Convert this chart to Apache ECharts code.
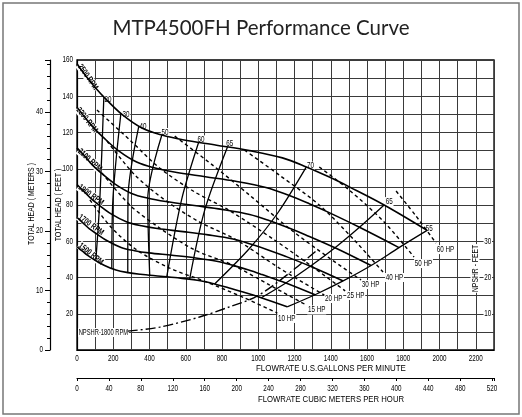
<!DOCTYPE html>
<html><head><meta charset="utf-8">
<script src="https://cdn.jsdelivr.net/npm/echarts@6/dist/echarts.min.js"></script>
<style>html,body{margin:0;padding:0;background:#fff}#c{width:522px;height:417px}</style>
</head><body><div id="c"></div>
<script>
// ---- data (GPM, feet) ----
const rpmNames = ['2500 RPM','2300 RPM','2100 RPM','1900 RPM','1700 RPM','1500 RPM'];
const rpm2500 = [[0,158],[50,151],[99,145],[154,139],[248,130],[358,122.5],[468,118.6],[583,116],[770,113],[951,110],[1133,106],[1265,101],[1392,95.4],[1502,90],[1694,80],[1931,66]];
const rpm2300 = [[0,134],[46,128],[91,122.7],[142,117.6],[228,110],[329,103.7],[431,100.4],[536,98.2],[708,95.6],[875,93.1],[1042,89.7],[1164,85.5],[1281,80.7],[1382,76.2],[1558,67.7],[1776,56.5]];
const rpm2100 = [[0,111.5],[42,107],[83,102.3],[129,98],[208,91.7],[301,86.4],[393,83.7],[490,81.9],[647,79.7],[799,77.6],[952,74.8],[1063,71.3],[1169,67.3],[1262,63.5],[1423,56.4],[1622,46.6]];
const rpm1900 = [[0,91.3],[38,87.5],[75,83.8],[117,80.3],[188,75.1],[272,70.8],[356,68.5],[443,67],[585,65.3],[723,63.5],[861,61.2],[961,58.3],[1058,55.1],[1142,52],[1287,46.2],[1468,38.1]];
const rpm1700 = [[0,73.1],[34,70],[67,67],[105,64.3],[169,60.1],[243,56.6],[318,54.8],[396,53.6],[524,52.3],[647,50.9],[770,49],[860,46.7],[947,44.1],[1021,41.6],[1152,37],[1313,30.5]];
const rpm1500 = [[0,56.9],[30,54.5],[59,52.2],[92,50],[149,46.8],[215,44.1],[281,42.7],[350,41.8],[462,40.7],[571,39.6],[680,38.2],[759,36.4],[835,34.3],[901,32.4],[1016,28.8],[1159,23.8]];

const effNames = ['20','30','40','50','60','65','70','65','55'];
const eff20 = [[104,49.5],[126,83],[148,139.5]];
const eff30 = [[192,45],[198,83],[242,130.5]];
const eff40 = [[280,42.7],[281,83],[341,123.5]];
const eff50 = [[401,41.3],[390,83],[468,118.6]];
const eff60 = [[495,40.4],[577,83],[671,114.6]];
const eff65 = [[621,39],[704,77],[830,112]];
const eff70 = [[759,36.4],[951,56],[1110,76],[1265,101]];
const eff65r = [[1016,28.8],[1152,37],[1287,46.2],[1423,56.4],[1558,67.7],[1694,80]];
const eff55 = [[1159,23.8],[1313,30.5],[1468,38.1],[1622,46.6],[1776,56.5],[1931,66]];

const hpNames = ['60 HP','50 HP','40 HP','30 HP','25 HP','20 HP','15 HP','10 HP'];
const hp60 = [[1760,87.7],[1870,73.9],[1980,59]];
const hp50 = [[1336,101],[1501,88.3],[1694,70.6],[1859,51.3]];
const hp40 = [[924,110.3],[1116,96.5],[1336,80],[1529,60.7],[1688,43]];
const hp30 = [[539,118],[748,102],[951,85.5],[1182,66.2],[1391,50.8],[1567,38.6]];
const hp25 = [[110,132.4],[291,115.9],[456,100.4],[649,87.2],[836,77.2],[1089,60.7],[1309,45.2],[1479,32.6]];
const hp20 = [[165,115.3],[319,96.6],[484,82.8],[676,70.6],[880,60.7],[1116,45.2],[1364,30.3]];
const hp15 = [[137,97.7],[291,80],[456,67.3],[649,55.2],[858,46.9],[1061,35.9],[1265,24.8]];
const hp10 = [[71,82.8],[192,67.3],[330,55.2],[511,45.2],[715,37.5],[924,28.7],[1105,20.4]];

// NPSHR (GPM, NPSH feet on right axis)
const npshName = 'NPSHR-1800 RPM';
const npshr1800 = [[280,5.2],[456,6.3],[676,9.1],[841,11.9],[995,14.9],[1171,21.2],[1325,27.6]];

// label anchors (GPM, feet)
const rpmLabelAt = [[60,150.6],[55,126.9],[71,104.8],[77,85.5],[77,69],[77,53]];
const effLabelAt = [[148,137.9],[247,129.7],[341,123.3],[462,120],[660,115.9],[819,113.9],[1265,101.5],[1699,81.9],[1919,67]];
const hpLabelAt = [[1980,55.4],[1859,47.7],[1699,40],[1567,36.1],[1485,30.1],[1364,28.4],[1270,22.1],[1105,17.4]];
const npshLabelAt = [5.5,9.65];

// axis ticks / labels
const gpmMax = 2300, gpmStep = 100;
const gpmTicks = [0,200,400,600,800,1000,1200,1400,1600,1800,2000,2200];
const ftMax = 160, ftStep = 10;
const ftTicks = [20,40,60,80,100,120,140,160];
const m3hMax = 2300/4.40287, m3hStep = 40;
const m3hTicks = [0,40,80,120,160,200,240,280,320,360,400,440,480,520];
const meterMax = 160/3.28084, meterStep = 10;
const meterTicks = [0,10,20,30,40];
const npshMax = 80;
const npshTicks = [10,20,30];

// ---- chart ----
const FONT = "'Liberation Sans',Arial,sans-serif";
const chart = echarts.init(document.getElementById('c'), null, {renderer:'canvas'});
const rpmData = [rpm2500,rpm2300,rpm2100,rpm1900,rpm1700,rpm1500];
const effData = [eff20,eff30,eff40,eff50,eff60,eff65,eff70,eff65r,eff55];
const hpData = [hp60,hp50,hp40,hp30,hp25,hp20,hp15,hp10];
const rpmAngles = [-55,-52,-42,-36,-36,-39];

const series = [];
rpmData.forEach((d,i)=>series.push({type:'line',name:rpmNames[i],data:d,smooth:0.35,symbol:'none',silent:true,z:4,
  lineStyle:{color:'#000',width:1.6}}));
effData.forEach((d,i)=>series.push({type:'line',name:'eff'+effNames[i],data:d,smooth:0.3,symbol:'none',silent:true,z:4,
  lineStyle:{color:'#000',width:1.3}}));
hpData.forEach((d,i)=>series.push({type:'line',name:hpNames[i],data:d,smooth:0.3,symbol:'none',silent:true,z:4,
  lineStyle:{color:'#000',width:1.4,type:[3.5,3]}}));
series.push({type:'line',name:npshName,yAxisIndex:2,data:npshr1800,smooth:0.3,symbol:'none',silent:true,z:4,
  lineStyle:{color:'#000',width:1.4,type:[10,3,2,3]}});

const blackLine = {color:'#000',width:1.2};
const noLabel = {show:false};
const option = {
  animation:false,
  title:{text:'MTP4500FH Performance Curve',left:'center',top:13,
    textStyle:{fontFamily:'Lato',fontSize:20.5,fontWeight:'normal',color:'#222'}},
  grid:{left:77,right:28,top:60,bottom:67,show:true,borderColor:'#000',borderWidth:1.3,backgroundColor:'transparent'},
  xAxis:[
    {type:'value',min:0,max:gpmMax,interval:gpmStep,
     axisLine:{lineStyle:blackLine},axisTick:{show:false},axisLabel:noLabel,
     splitLine:{show:true,lineStyle:{color:'#3a3a3a',width:1}}},
    {type:'value',min:0,max:m3hMax,interval:m3hStep,position:'bottom',offset:28,
     axisLine:{show:true,onZero:false,lineStyle:blackLine},axisTick:{show:true,length:3,lineStyle:{color:'#000'}},
     axisLabel:noLabel,splitLine:{show:false}}
  ],
  yAxis:[
    {type:'value',min:0,max:ftMax,interval:ftStep,
     axisLine:{show:true,lineStyle:blackLine},axisTick:{show:false},axisLabel:noLabel,
     splitLine:{show:true,lineStyle:{color:'#3a3a3a',width:1}}},
    {type:'value',min:0,max:meterMax,interval:meterStep,position:'left',offset:27,
     axisLine:{show:true,onZero:false,lineStyle:blackLine},
     axisTick:{show:true,length:5,lineStyle:{color:'#000'}},
     minorTick:{show:true,splitNumber:5,length:3,lineStyle:{color:'#000'}},
     axisLabel:noLabel,splitLine:{show:false}},
    {type:'value',min:0,max:npshMax,interval:10,position:'right',
     axisLine:{show:false},axisTick:{show:false},axisLabel:noLabel,splitLine:{show:false}}
  ],
  series:series
};
chart.setOption(option);

// ---- text drawn as condensed graphic text, placed through the axes' scales ----
function T(x,y,text,o){
  o=o||{};
  const st={text:text,font:(o.w||'normal')+' '+(o.fs||8.5)+'px '+FONT,fill:'#000',
    align:o.align||'center',verticalAlign:'middle'};
  if(o.bg){st.backgroundColor=o.bg;st.padding=o.pad||[0,1];}
  return {type:'text',x:x,y:y,rotation:o.rot||0,scaleX:o.sx||0.74,z:o.z==null?1:o.z,silent:true,style:st};
}
const P = (v)=>chart.convertToPixel({xAxisIndex:0,yAxisIndex:0},v);
const gx = (v)=>chart.convertToPixel({xAxisIndex:0},v);
const gy = (v)=>chart.convertToPixel({yAxisIndex:0},v);
const y0 = gy(0), x0 = gx(0), xEnd = gx(gpmMax), yTop = gy(ftMax);
const g = [];
g.push({type:'rect',shape:{x:3,y:3,width:516,height:411},style:{fill:'none',stroke:'#777',lineWidth:1.5},silent:true,z:-1});
gpmTicks.forEach(v=>g.push(T(gx(v),y0+9,String(v))));
m3hTicks.forEach(v=>g.push(T(chart.convertToPixel({xAxisIndex:1},v),y0+38.5,String(v))));
ftTicks.forEach(v=>g.push(T(x0-4,gy(v),String(v),{align:'right'})));
meterTicks.forEach(v=>g.push(T(x0-34,chart.convertToPixel({yAxisIndex:1},v),String(v),{align:'right'})));
npshTicks.forEach(v=>g.push(T(xEnd-2,chart.convertToPixel({yAxisIndex:2},v),String(v),{align:'right',bg:'#fff'})));
g.push(T(x0+179,y0+18.5,'FLOWRATE U.S.GALLONS PER MINUTE',{fs:9.8,align:'left',sx:0.81}));
g.push(T(x0+181,y0+49.5,'FLOWRATE CUBIC METERS PER HOUR',{fs:9.8,align:'left',sx:0.79}));
g.push(T(x0-45.5,(y0+yTop)/2-1,'TOTAL HEAD ( METERS )',{fs:9.6,rot:Math.PI/2,sx:0.72}));
g.push(T(x0-18.5,(y0+yTop)/2,'TOTAL HEAD ( FEET )',{fs:9.6,rot:Math.PI/2,sx:0.74}));
g.push(T(xEnd-19,gy(45),'NPSHR - FEET',{fs:9.2,rot:Math.PI/2,bg:'#fff',z:2}));
rpmLabelAt.forEach((p,i)=>{const q=P(p);g.push(T(q[0],q[1],rpmNames[i],{fs:8.6,w:'bold',rot:rpmAngles[i]*Math.PI/180,bg:'#fff',sx:0.72}));});
effLabelAt.forEach((p,i)=>{const q=P(p);g.push(T(q[0],q[1],effNames[i],{align:'left',bg:'#fff'}));});
hpLabelAt.forEach((p,i)=>{const q=P(p);g.push(T(q[0],q[1],hpNames[i],{align:'left',bg:'#fff'}));});
{const q=P(npshLabelAt);g.push(T(q[0],q[1],npshName,{align:'left',bg:'#fff',sx:0.68}));}
chart.setOption({graphic:g});
</script></body></html>
